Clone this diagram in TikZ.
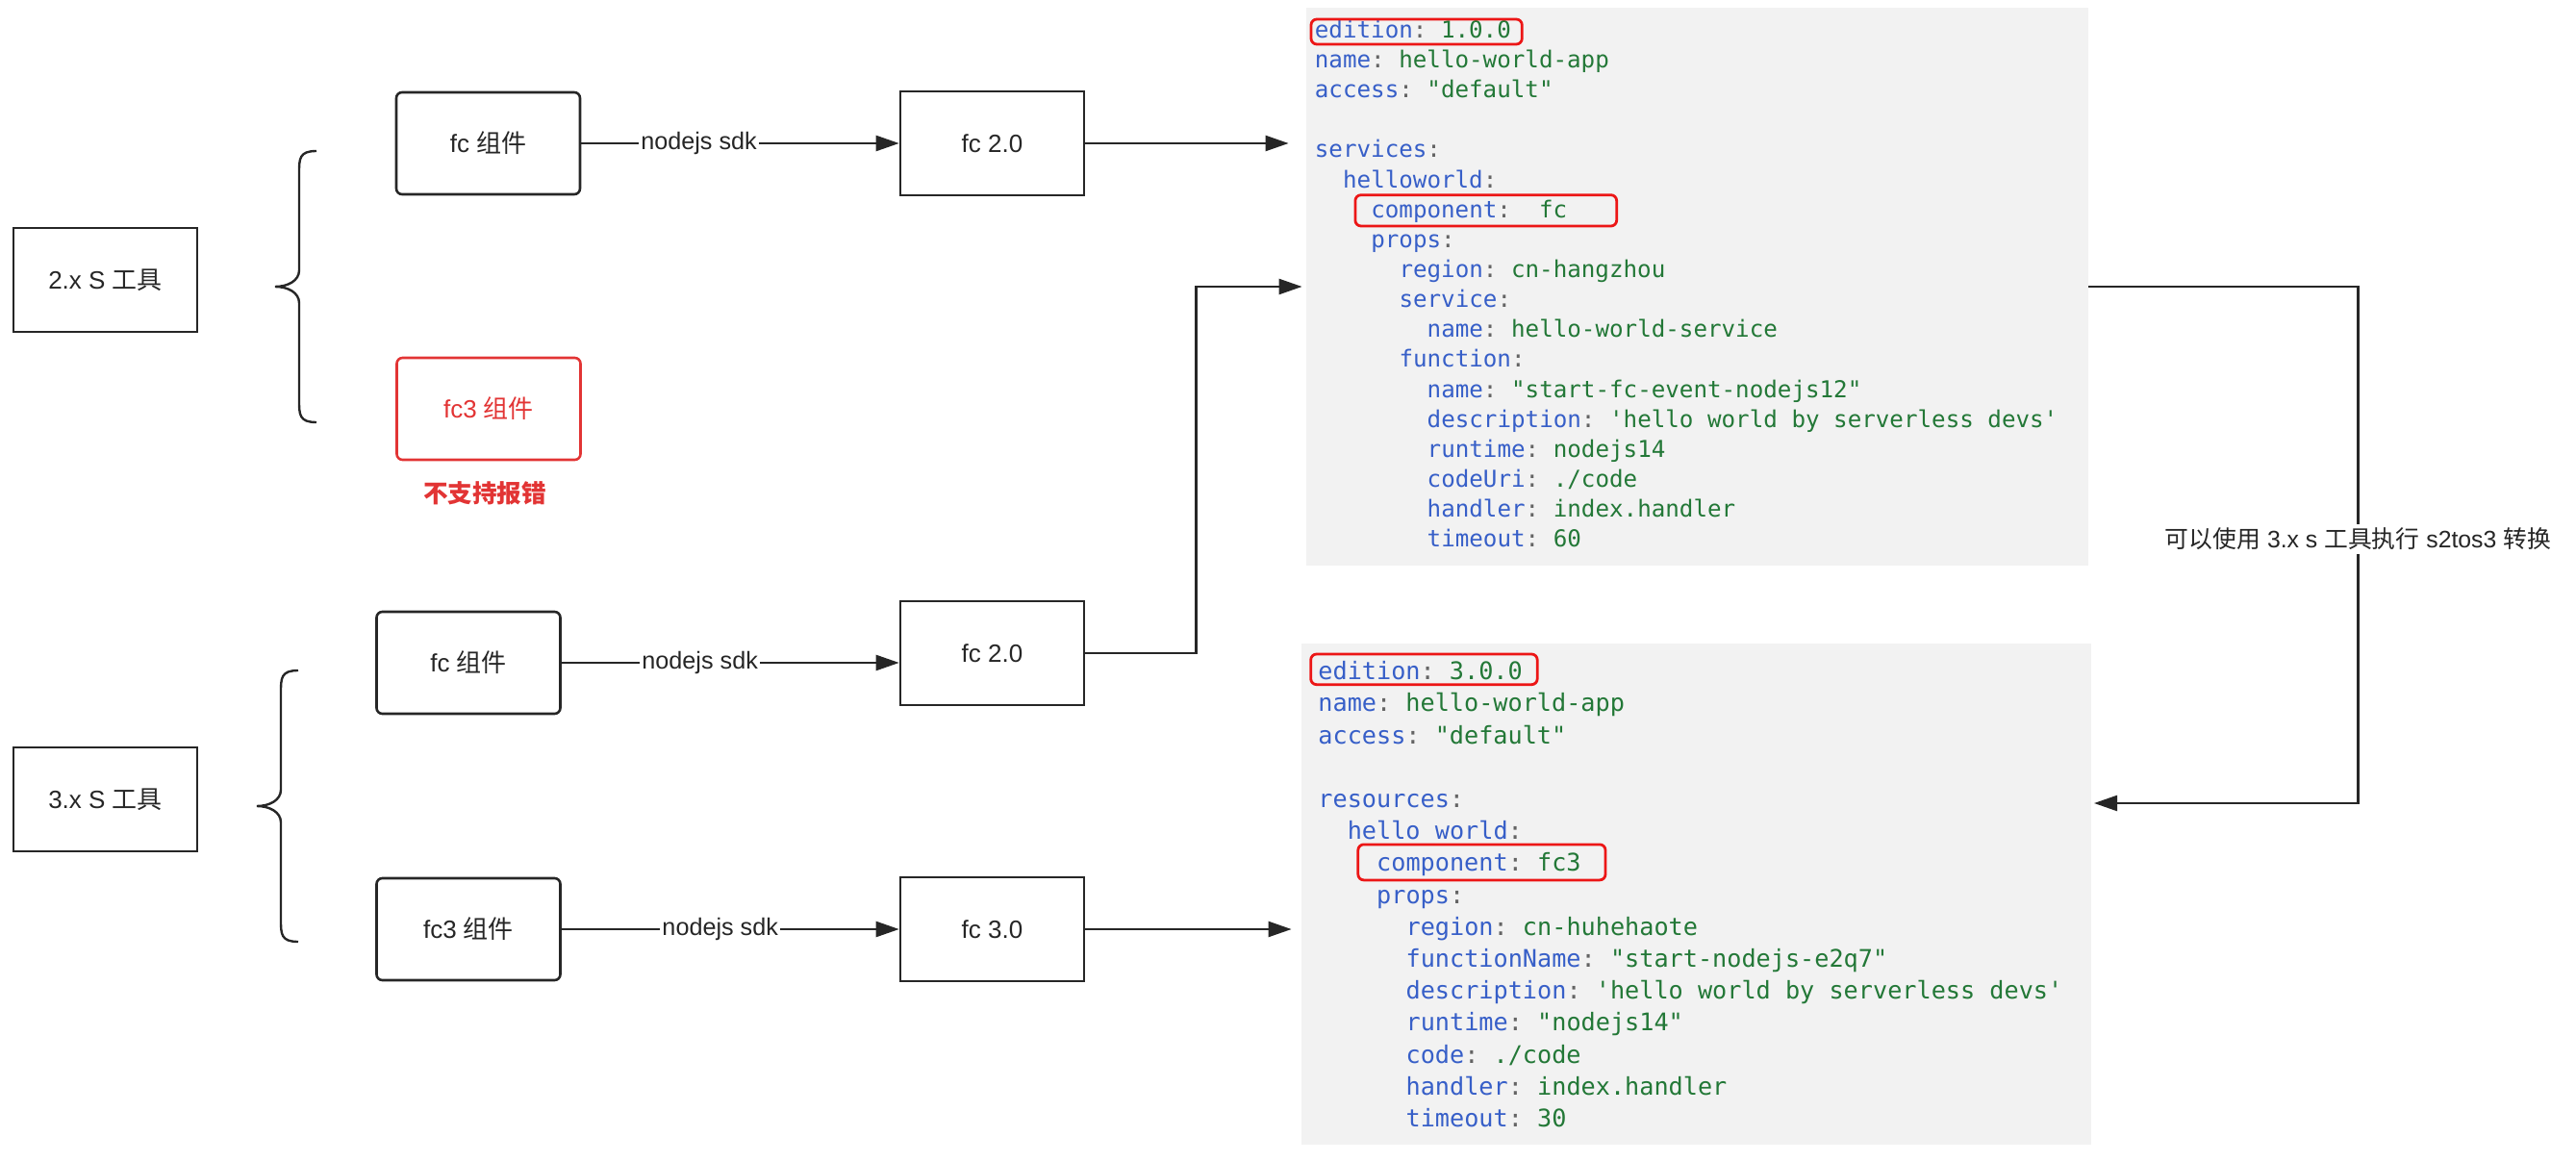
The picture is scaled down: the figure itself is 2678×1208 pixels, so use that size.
\documentclass[tikz,border=0pt]{standalone}
\usepackage{fontspec}
\setmainfont{Liberation Sans}
\setmonofont{DejaVu Sans Mono}
\newfontfamily\cjk{Noto Sans CJK SC}
\usetikzlibrary{arrows.meta}

\definecolor{linegray}{RGB}{38,38,38}
\definecolor{warnred}{RGB}{226,52,52}
\definecolor{hlred}{RGB}{236,22,22}
\definecolor{panelgray}{RGB}{242,242,242}
\definecolor{keyblue}{RGB}{55,95,200}
\definecolor{valgreen}{RGB}{35,120,55}
\definecolor{colgray}{RGB}{100,100,100}
\newcommand{\yk}[1]{{\color{keyblue}#1}{\color{colgray}:}}
\newcommand{\yv}[1]{\ {\color{valgreen}#1}}

\begin{document}
\begin{tikzpicture}[x=0.5pt, y=-0.5pt,
		boxfont/.style={font=\fontsize{13}{15.6}\selectfont},
		toolbox/.style={draw=linegray, line width=1.3pt, minimum width=95.5pt, minimum height=54pt, boxfont, text=linegray},
		compbox/.style={toolbox, rounded corners=3pt, minimum height=53pt},
		warnbox/.style={compbox, draw=warnred, text=warnred},
		lbl/.style={fill=white, inner sep=1pt, font=\fontsize{12.6}{15}\selectfont, text=linegray},
		arr/.style={draw=linegray, line width=1.2pt, -{Triangle[length=12pt,width=8pt]}},
		brace/.style={draw=linegray, line width=1.2pt},
		panel/.style={fill=panelgray, inner sep=0pt},
		codeA/.style={anchor=base west, inner sep=0pt, font=\ttfamily\fontsize{12.1}{14}\selectfont},
		codeB/.style={codeA, font=\ttfamily\fontsize{12.6}{14}\selectfont},
		hilite/.style={draw=hlred, line width=1.4pt, rounded corners=3pt}
	]
	\useasboundingbox (0,0) rectangle (2678,1208);

	% 左侧两个版本的 S 工具
	\node[toolbox] (tool2) at (109.5,291) {2.x S {\cjk 工具}};
	\node[toolbox] (tool3) at (109.5,831) {3.x S {\cjk 工具}};

	% 大括号
	\foreach \bx/\by in {311/298, 292/838}
		\draw[brace] (\bx+18,\by-141) .. controls (\bx,\by-141) and (\bx,\by-133) .. (\bx,\by-118)
			-- (\bx,\by-17) .. controls (\bx,\by-6) and (\bx-12,\by) .. (\bx-25,\by)
			.. controls (\bx-12,\by) and (\bx,\by+6) .. (\bx,\by+17)
			-- (\bx,\by+118) .. controls (\bx,\by+133) and (\bx,\by+141) .. (\bx+18,\by+141);

	% 组件
	\node[compbox] (fcA) at (507.5,149) {fc {\cjk 组件}};
	\node[warnbox] (fc3A) at (508,425) {fc3 {\cjk 组件}};
	\node[text=warnred, font=\fontsize{12.8}{15}\selectfont\cjk\bfseries] (warn) at (504,513) {不支持报错};
	\node[compbox] (fcB) at (487,689) {fc {\cjk 组件}};
	\node[compbox] (fc3B) at (487,966) {fc3 {\cjk 组件}};

	% fc 引擎
	\node[toolbox] (fc20A) at (1031.5,149) {fc 2.0};
	\node[toolbox] (fc20B) at (1031.5,679) {fc 2.0};
	\node[toolbox] (fc30) at (1031.5,966) {fc 3.0};

	% 两份 s.yaml
	\node[panel, minimum width=406.5pt, minimum height=290pt] (yaml1) at (1764.5,298) {};
	\node[panel, minimum width=410.5pt, minimum height=260.5pt] (yaml2) at (1763.5,929.5) {};

	\foreach \n/\ind/\txt in {
			1/0/{\yk{edition}\yv{1.0.0}},
			2/0/{\yk{name}\yv{hello-world-app}},
			3/0/{\yk{access}\yv{"default"}},
			5/0/{\yk{services}},
			6/2/{\yk{helloworld}},
			7/4/{\yk{component}\yv{\ fc}},
			8/4/{\yk{props}},
			9/6/{\yk{region}\yv{cn-hangzhou}},
			10/6/{\yk{service}},
			11/8/{\yk{name}\yv{hello-world-service}},
			12/6/{\yk{function}},
			13/8/{\yk{name}\yv{"start-fc-event-nodejs12"}},
			14/8/{\yk{description}\yv{'hello world by serverless devs'}},
			15/8/{\yk{runtime}\yv{nodejs14}},
			16/8/{\yk{codeUri}\yv{./code}},
			17/8/{\yk{handler}\yv{index.handler}},
			18/8/{\yk{timeout}\yv{60}}}
		\node[codeA] (p1-\n) at ({1366.5+\ind*14.6},{39.3+31.15*(\n-1)}) {\txt};

	\foreach \n/\ind/\txt in {
			1/0/{\yk{edition}\yv{3.0.0}},
			2/0/{\yk{name}\yv{hello-world-app}},
			3/0/{\yk{access}\yv{"default"}},
			5/0/{\yk{resources}},
			6/2/{\yk{hello\_world}},
			7/4/{\yk{component}\yv{fc3}},
			8/4/{\yk{props}},
			9/6/{\yk{region}\yv{cn-huhehaote}},
			10/6/{\yk{functionName}\yv{"start-nodejs-e2q7"}},
			11/6/{\yk{description}\yv{'hello world by serverless devs'}},
			12/6/{\yk{runtime}\yv{"nodejs14"}},
			13/6/{\yk{code}\yv{./code}},
			14/6/{\yk{handler}\yv{index.handler}},
			15/6/{\yk{timeout}\yv{30}}}
		\node[codeB] (p2-\n) at ({1370+\ind*15.2},{706.7+33.2*(\n-1)}) {\txt};

	% 红框标注
	\draw[hilite] ([shift={(-3.5,6.7)}]p1-1.base west) rectangle ([shift={(11,-19.3)}]p1-1.base east);
	\draw[hilite] ([shift={(-16,8.8)}]p1-7.base west) rectangle ([shift={(51,-23.5)}]p1-7.base east);
	\draw[hilite] ([shift={(-7.3,5)}]p2-1.base west) rectangle ([shift={(15,-26.7)}]p2-1.base east);
	\draw[hilite] ([shift={(-19,9)}]p2-7.base west) rectangle ([shift={(25,-28)}]p2-7.base east);

	% 连线
	\draw[arr] (fcA) -- node[lbl, pos=0.37] {nodejs sdk} (fc20A);
	\draw[arr] (fcB) -- node[lbl, pos=0.41] {nodejs sdk} (fcB -| fc20B.west);
	\draw[arr] (fc3B) -- node[lbl, pos=0.47] {nodejs sdk} (fc30);
	\draw[arr, shorten >=9pt] (fc20A) -- (fc20A -| yaml1.west);
	\draw[arr, shorten >=2pt] (fc20B.east) -- ++(115,0) |- (yaml1.west);
	\draw[arr, shorten >=5pt] (fc30) -- (fc30 -| yaml2.west);

	% s2tos3 转换
	\coordinate (back) at (2177,835);
	\draw[arr] (yaml1.east) -- ++(280,0) coordinate (turn)
		-- node[lbl, pos=0.488, inner sep=2pt, font=\fontsize{12.4}{15}\selectfont] (conv)
			{{\cjk 可以使用} 3.x s {\cjk 工具执行} s2tos3 {\cjk 转换}} (turn |- back) -- (back);
\end{tikzpicture}
\end{document}
